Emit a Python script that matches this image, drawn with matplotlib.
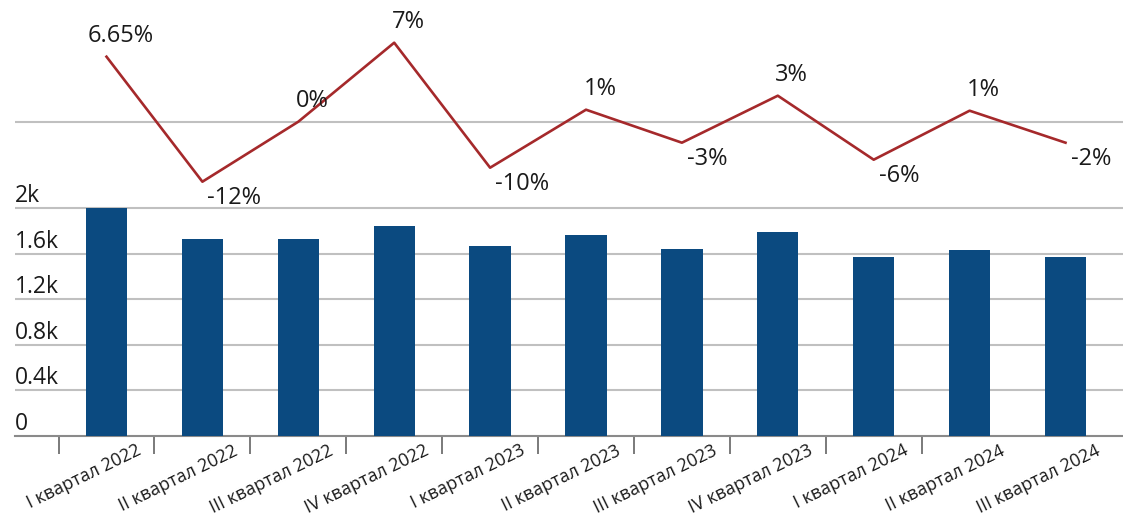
import numpy as np
import matplotlib
matplotlib.use("Agg")
import matplotlib.pyplot as plt
import matplotlib.transforms as mtransforms

plt.rcParams['font.family'] = ['Open Sans', 'DejaVu Sans']

# quarters on the x axis
quarters = ['I квартал 2022', 'II квартал 2022', 'III квартал 2022', 'IV квартал 2022',
            'I квартал 2023', 'II квартал 2023', 'III квартал 2023', 'IV квартал 2023',
            'I квартал 2024', 'II квартал 2024', 'III квартал 2024']

# bar values, thousands
volume = [2.00, 1.73, 1.73, 1.84, 1.67, 1.76, 1.64, 1.79, 1.57, 1.63, 1.57]

# line heights as drawn in the upper panel (zero = grey line) and their labels
growth_curve = [6.5, -6.0, 0.0, 7.9, -4.6, 1.2, -2.1, 2.6, -3.8, 1.1, -2.1]
growth_labels = ['6.65%', '-12%', '0%', '7%', '-10%', '1%', '-3%', '3%', '-6%', '1%', '-2%']

y_ticks = [0, 0.4, 0.8, 1.2, 1.6, 2.0]
y_tick_labels = ['0', '0.4k', '0.8k', '1.2k', '1.6k', '2k']

W, H = 1123, 516
fig = plt.figure(figsize=(W / 100, H / 100), dpi=100)

# axes placed in pixel terms
left_px, right_px = 15, 1123
ax_bar = fig.add_axes([left_px / W, (H - 436) / H, (right_px - left_px) / W, (436 - 200) / H])
ax_line = fig.add_axes([left_px / W, (H - 200) / H, (right_px - left_px) / W, 200 / H],
                       sharex=ax_bar)

x = np.arange(len(quarters))
cat_px = 95.9
first_center_px = 106.5
xmin = (left_px - first_center_px) / cat_px
xmax = (right_px - first_center_px) / cat_px

grid_col = '#c0c0c0'

# ---- bars ----
ax_bar.bar(x, volume, width=0.43, color='#0b4a80', zorder=3)
ax_bar.set_xlim(xmin, xmax)
ax_bar.set_ylim(0, 2.0 * 236 / 228)
for v in y_ticks[1:]:
    ax_bar.axhline(v, color=grid_col, lw=1.5, zorder=1)
for v, lab in zip(y_ticks, y_tick_labels):
    ax_bar.text(0.0, v, lab, transform=ax_bar.get_yaxis_transform(),
                ha='left', va='bottom', fontsize=16.5, color='#1a1a1a')
ax_bar.set_yticks([])
for s in ['top', 'right', 'left']:
    ax_bar.spines[s].set_visible(False)
ax_bar.spines['bottom'].set_color('#8a8a8a')
ax_bar.spines['bottom'].set_linewidth(1.5)

# ticks between the categories, labels at the centres
ax_bar.set_xticks(x[:-1] - 0.5)
ax_bar.set_xticklabels([])
ax_bar.tick_params(axis='x', which='major', length=13, width=1.3, color='#707070')
ax_bar.set_xticks(x, minor=True)
ax_bar.set_xticklabels(quarters, minor=True, rotation=26, ha='right', va='top',
                       rotation_mode='anchor', fontsize=13, color='#1a1a1a')
ax_bar.tick_params(axis='x', which='minor', length=0, pad=4)
shift = mtransforms.ScaledTranslation(30 / 100, 0, fig.dpi_scale_trans)
for lbl in ax_bar.get_xticklabels(minor=True):
    lbl.set_transform(lbl.get_transform() + shift)

# ---- line ----
ax_line.plot(x, growth_curve, color='#a5292b', lw=1.9, zorder=3)
ax_line.axhline(0, color=grid_col, lw=1.5, zorder=1)
ax_line.set_ylim(-(200 - 121.7) / 10, 121.7 / 10)
ax_line.axis('off')
for xi, yi, lab in zip(x, growth_curve, growth_labels):
    if lab.startswith('-'):
        ax_line.annotate(lab, (xi, yi), xytext=(5, -16), textcoords='offset pixels',
                         ha='left', va='center', fontsize=17, color='#1a1a1a')
    else:
        ax_line.annotate(lab, (xi, yi), xytext=(14, 21), textcoords='offset pixels',
                         ha='center', va='center', fontsize=17, color='#1a1a1a')

fig.savefig('out.png', dpi=100)
